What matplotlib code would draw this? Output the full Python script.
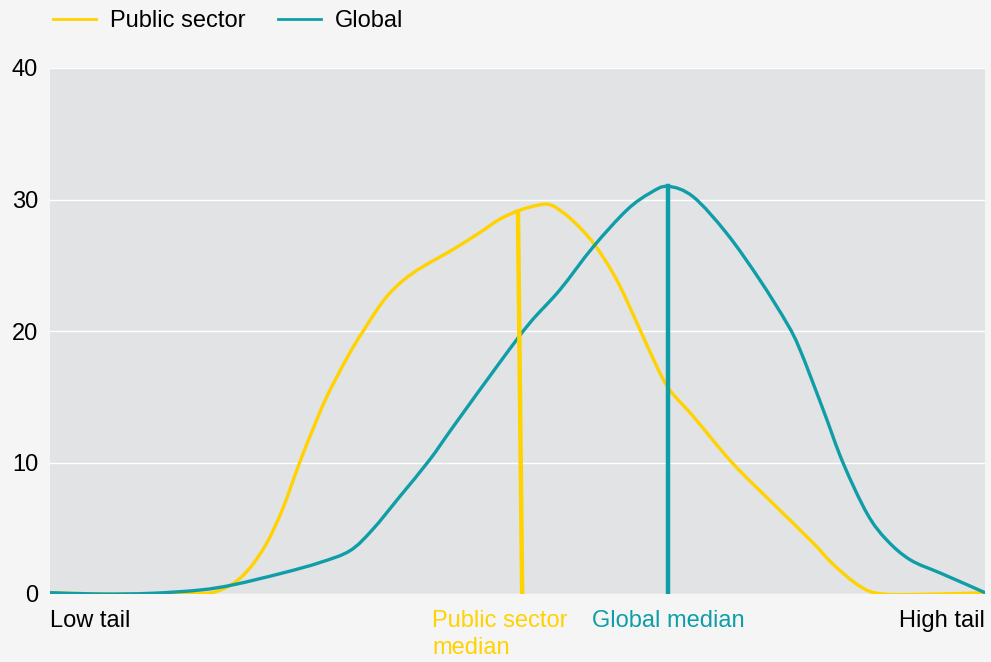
import matplotlib.pyplot as plt
from matplotlib.path import Path
from matplotlib.patches import PathPatch
from matplotlib.lines import Line2D

plt.rcParams['font.family'] = ['Liberation Sans', 'DejaVu Sans']

# distribution position (0 = low tail, 100 = high tail) and share
public_x = [0, 5.3, 10.7, 16.0, 17.6, 19.6, 21.4, 23.2, 24.9, 26.7, 28.1, 29.6, 31.8,
            33.5, 36.0, 38.8, 43.1, 46.0, 48.1, 50.3, 52.4, 53.5, 54.5, 55.9, 58.1,
            60.6, 63.1, 64.9, 66.3, 68.8, 73.0, 77.3, 81.6, 83.7, 86.6, 89.1, 95.2, 100]
public_y = [0.1, 0.0, 0.0, 0.05, 0.15, 0.8, 2.0, 3.9, 6.5, 10.0, 12.5, 15.0, 18.0,
            20.0, 22.6, 24.4, 26.2, 27.5, 28.5, 29.2, 29.6, 29.6, 29.2, 28.4, 26.7,
            23.9, 20.1, 17.3, 15.5, 13.5, 9.95, 6.9, 3.9, 2.3, 0.6, 0.0, 0.0, 0.1]

global_x = [0, 5.3, 10.7, 16.0, 19.6, 24.9, 28.9, 32.1, 34.5, 37.4, 40.6, 43.1, 48.1,
            51.3, 54.5, 58.1, 61.7, 64.2, 66.1, 68.8, 72.4, 75.9, 78.8, 80.2, 82.7,
            84.8, 87.4, 89.5, 92.0, 95.2, 98.1, 100]
global_y = [0.1, 0.0, 0.05, 0.3, 0.7, 1.6, 2.4, 3.3, 4.9, 7.4, 10.2, 12.7, 17.6,
            20.6, 23.1, 26.4, 29.2, 30.5, 31.0, 30.2, 27.4, 23.9, 20.6, 18.6, 14.0,
            10.0, 6.1, 4.1, 2.6, 1.6, 0.7, 0.1]

# median markers: (x top, x bottom, height)
public_median = (50.05, 50.5, 29.1)
global_median = (66.1, 66.1, 31.0)

yticks = [0, 10, 20, 30, 40]

YELLOW = '#FFD200'
TEAL = '#0F9EA8'


def smooth_path(xs, ys):
    # catmull-rom through the points, drawn as cubic bezier segments
    pts = list(zip(xs, ys))
    verts = [pts[0]]
    codes = [Path.MOVETO]
    for i in range(len(pts) - 1):
        p0 = pts[i - 1] if i > 0 else pts[i]
        p1 = pts[i]
        p2 = pts[i + 1]
        p3 = pts[i + 2] if i + 2 < len(pts) else pts[i + 1]
        c1 = (p1[0] + (p2[0] - p0[0]) / 6, p1[1] + (p2[1] - p0[1]) / 6)
        c2 = (p2[0] - (p3[0] - p1[0]) / 6, p2[1] - (p3[1] - p1[1]) / 6)
        verts += [c1, c2, p2]
        codes += [Path.CURVE4] * 3
    return Path(verts, codes)


fig = plt.figure(figsize=(9.91, 6.62), dpi=100, facecolor='#F5F5F5')
ax = fig.add_axes([50 / 991, (662 - 594) / 662, 935 / 991, 526 / 662])
ax.set_facecolor('#E1E3E5')

ax.add_patch(PathPatch(smooth_path(public_x, public_y), fill=False, edgecolor=YELLOW,
                       lw=2.4, capstyle='round', joinstyle='round', zorder=3))
ax.add_patch(PathPatch(smooth_path(global_x, global_y), fill=False, edgecolor=TEAL,
                       lw=2.4, capstyle='round', joinstyle='round', zorder=3))

ax.plot([public_median[0], public_median[1]], [public_median[2], 0],
        color=YELLOW, lw=3.2, zorder=4)
ax.plot([global_median[0], global_median[1]], [global_median[2], 0],
        color=TEAL, lw=3.2, zorder=4)

ax.set_xlim(0, 100)
ax.set_ylim(0, 40)
ax.set_yticks(yticks)
ax.set_xticks([])
ax.tick_params(axis='y', length=0, pad=8.6, labelsize=17)
ax.grid(axis='y', color='white', lw=1)
ax.set_axisbelow(True)
for s in ax.spines.values():
    s.set_visible(False)

tr = ax.get_xaxis_transform()
fs = 17
ty = -0.031
ax.text(0, ty, 'Low tail', transform=tr, ha='left', va='top', fontsize=fs)
ax.text(100, ty, 'High tail', transform=tr, ha='right', va='top', fontsize=fs)
ax.text(40.85, ty, 'Public sector\nmedian', transform=tr, ha='left', va='top',
        fontsize=fs, color=YELLOW, linespacing=1.3)
ax.text(58.0, ty, 'Global median', transform=tr, ha='left', va='top',
        fontsize=fs, color=TEAL)

handles = [Line2D([], [], color=YELLOW, lw=2.0), Line2D([], [], color=TEAL, lw=2.0)]
fig.legend(handles, ['Public sector', 'Global'], loc='upper left',
           bbox_to_anchor=(53 / 991, 1 - 10 / 662), ncol=2,
           frameon=False, fontsize=fs, handlelength=1.8, handletextpad=0.6,
           columnspacing=1.4, borderpad=0, borderaxespad=0)

fig.savefig('out.png', dpi=100, facecolor=fig.get_facecolor())
